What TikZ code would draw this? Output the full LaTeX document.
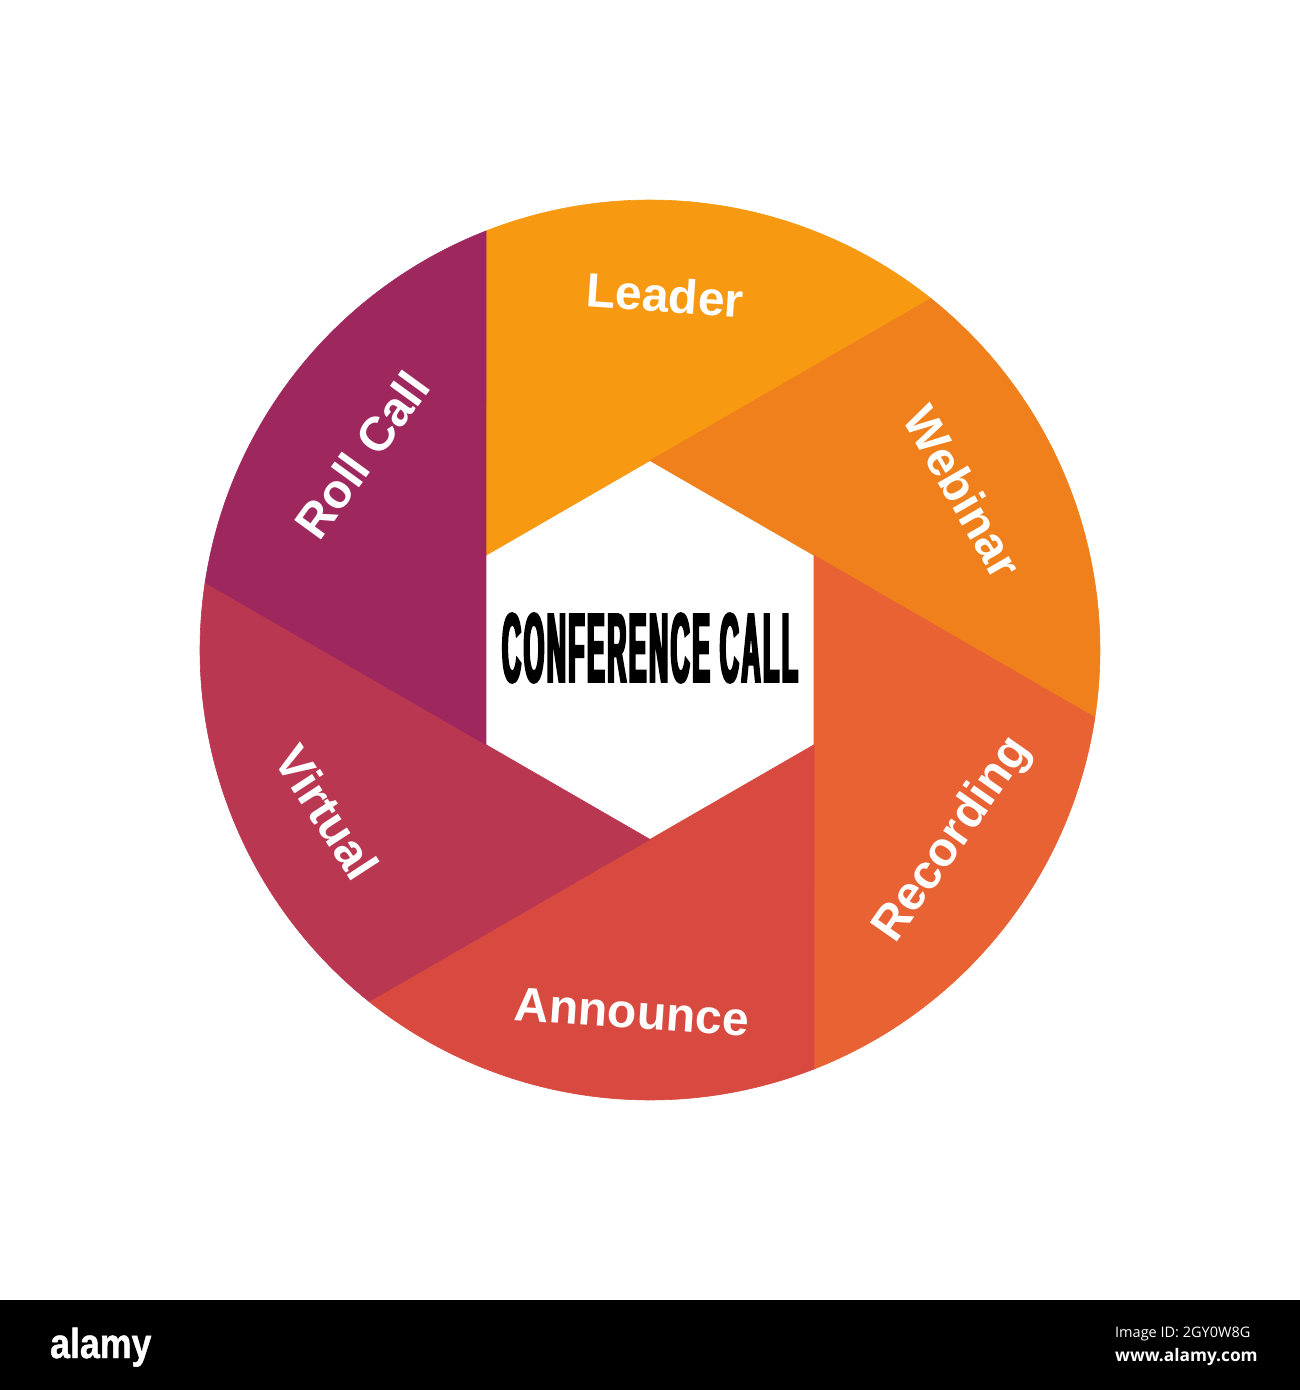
\documentclass[tikz,border=0pt]{standalone}
\usepackage{fontspec}
\setmainfont{Liberation Sans}
\newfontfamily\condfont{Liberation Sans}[UprightFont={* Bold},FakeStretch=0.271,FakeBold=2.4,LetterSpace=2.5]
\newfontfamily\logofont{Liberation Sans}[UprightFont={* Bold},FakeStretch=0.85,FakeBold=1]
\newfontfamily\idfont{Open Sans}
\definecolor{cLeader}{RGB}{248,153,18}
\definecolor{cWebinar}{RGB}{240,128,28}
\definecolor{cRecording}{RGB}{232,98,52}
\definecolor{cAnnounce}{RGB}{216,74,64}
\definecolor{cVirtual}{RGB}{186,55,82}
\definecolor{cRoll}{RGB}{158,39,94}
\begin{document}
\begin{tikzpicture}[x=1pt,y=1pt,
  lbl/.style={text=white,font=\fontsize{48}{48}\selectfont\bfseries,inner sep=0pt},
  title/.style={text=black,font=\condfont\fontsize{98}{98}\selectfont,inner sep=0pt},
  band/.style={fill=black},
]
\fill[white] (-650,650) rectangle (650,-740);
\useasboundingbox (-650,650) rectangle (650,-740);
\def\R{189.4}
\def\Rc{450}
\foreach \v/\c in {150/cLeader,90/cWebinar,30/cRecording,-30/cAnnounce,-90/cVirtual,-150/cRoll}{
  \filldraw[fill=\c,draw=\c,line width=0.6] (\v:\R) -- (\v-38.63:\Rc)
    arc[start angle=\v-38.63, end angle=\v-98.63, radius=\Rc] -- (\v-60:\R) -- cycle;
}
\node[title] (center) at (0,2) {CONFERENCE CALL};
\node[lbl,rotate=-4]  (leader)    at (15,355)   {Leader};
\node[lbl,rotate=-60] (webinar)   at (313,158)  {Webinar};
\node[lbl,rotate=55]  (recording) at (303,-190) {Recording};
\node[lbl,rotate=-4]  (announce)  at (-18,-362) {Announce};
\node[lbl,rotate=-57] (virtual)   at (-323,-162){Virtual};
\node[lbl,rotate=54]  (rollcall)  at (-288,195) {Roll Call};
\fill[band] (-650,-650) rectangle (650,-740);
\node[text=white,font=\logofont\fontsize{42}{42}\selectfont,inner sep=0pt,anchor=base west] (logo) at (-600,-708) {alamy};
\node[text=white,font=\idfont\fontsize{14.5}{14.5}\selectfont,inner sep=0pt,anchor=base west] (imgid) at (465,-687) {Image ID: 2GY0W8G};
\node[text=white,font=\idfont\fontsize{17.3}{17.3}\selectfont\bfseries,inner sep=0pt,anchor=base west] (www) at (465,-711) {www.alamy.com};
\end{tikzpicture}
\end{document}
